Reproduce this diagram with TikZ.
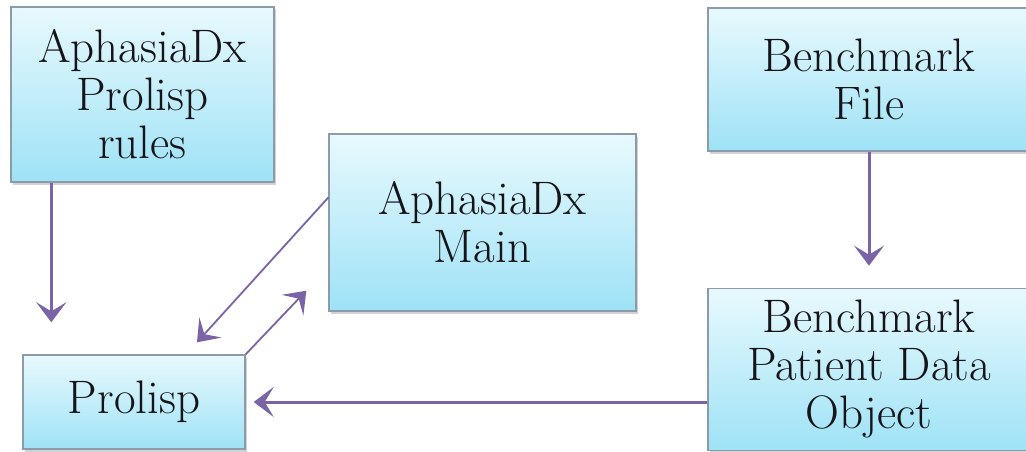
\documentclass[tikz,border=0pt]{standalone}
\usepackage{tikz}
\usetikzlibrary{positioning,arrows.meta,calc,shadows}
\definecolor{adTop}{RGB}{232,249,253}
\definecolor{adBottom}{RGB}{158,226,246}
\definecolor{adEdge}{RGB}{140,155,172}
\definecolor{adFlow}{RGB}{122,100,166}
\definecolor{adText}{RGB}{20,20,25}

\begin{document}
\begin{tikzpicture}[
    x=1pt, y=-1pt,
    blockbox/.style={rectangle, draw=adEdge, line width=1.4pt, top color=adTop, bottom color=adBottom,
      drop shadow={opacity=0.35, shadow xshift=1.5pt, shadow yshift=-2.5pt},
      text=adText, align=center, font=\fontsize{47}{48}\selectfont},
    flow/.style={draw=adFlow, line width=3pt, -{Stealth[length=20pt, width=30pt, inset=9pt]}},
    link/.style={draw=adFlow, line width=1.8pt, -{Stealth[length=20pt, width=30pt, inset=9pt]}}
]
  \useasboundingbox (0,0) rectangle (1026,452);
  \clip (0,0) rectangle (1026,452);
  \fill[white] (0,0) rectangle (1026,452);

  \node[blockbox, minimum width=263pt, minimum height=175pt] (rules) at (142.5,94.5) {AphasiaDx\\Prolisp\\rules};
  \node[blockbox, minimum width=307pt, minimum height=177pt] (main) at (482.5,222.5) {AphasiaDx\\Main};
  \node[blockbox, minimum width=222pt, minimum height=94pt] (prolisp) at (134,402) {Prolisp};
  \node[blockbox, minimum width=322pt, minimum height=143pt] (bfile) at (869,79.5) {Benchmark\\File};
  \node[blockbox, minimum width=322pt, minimum height=162pt] (bpatient) [below=136pt of bfile] {Benchmark\\Patient Data\\Object};

  % free ends of the connectors
  \coordinate (r0) at ([xshift=41pt]rules.south west);
  \coordinate (m0) at ([yshift=25pt]main.west);
  \coordinate (p0) at ([xshift=63pt, yshift=12pt]prolisp.north);
  \coordinate (m1) at ([xshift=-22pt, yshift=21pt]main.south west);

  \draw[flow, shorten >=32pt] (r0) -- (r0 |- prolisp.north);
  \draw[flow, shorten >=22pt] (bfile) -- (bpatient);
  \draw[flow, shorten >=8pt] (bpatient.west |- prolisp.east) -- (prolisp.east);
  \draw[link] (m0) -- (p0);
  \draw[link] (prolisp.north east) -- (m1);
\end{tikzpicture}
\end{document}
